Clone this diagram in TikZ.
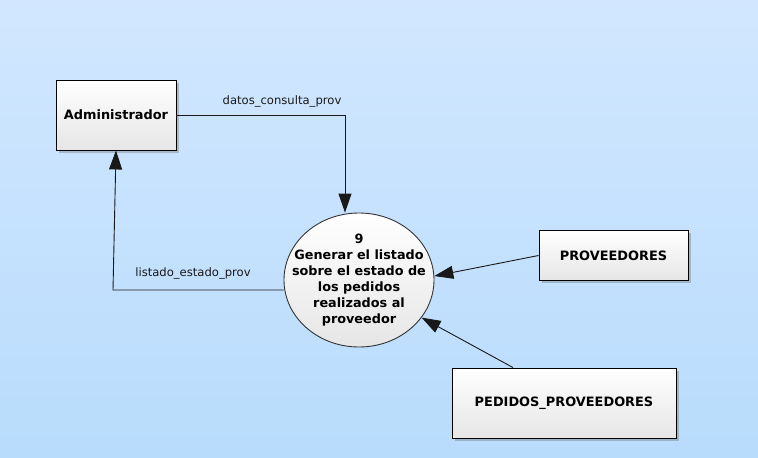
\documentclass[tikz,border=0pt]{standalone}
\usepackage{fontspec}
\setmainfont{DejaVu Sans}
\usetikzlibrary{arrows.meta}
\usetikzlibrary{shapes.geometric}
\usetikzlibrary{shadows}

\definecolor{fundoA}{RGB}{210,231,255}
\definecolor{fundoB}{RGB}{184,220,252}
\definecolor{caixaB}{RGB}{230,230,230}

\tikzset{
  entidade/.style={draw=black, line width=0.9pt, top color=white, bottom color=caixaB,
    drop shadow={shadow xshift=2.5pt, shadow yshift=-2.5pt, opacity=.35, fill=black!60},
    font=\fontsize{12.9}{16}\selectfont\bfseries, inner sep=0pt},
  processo/.style={ellipse, draw=black!80, line width=0.9pt, top color=white, bottom color=caixaB,
    align=center, inner xsep=-15pt, inner ysep=-2pt,
    font=\fontsize{12.8}{16}\selectfont\bfseries},
  fluxo/.style={draw=black!90, line width=0.9pt, -{Triangle[length=19pt,width=13pt]}},
  rotulo/.style={font=\fontsize{11.6}{13}\selectfont, text=black!90}
}

\begin{document}
\begin{tikzpicture}[x=1pt,y=-1pt]

% fundo
\shade[top color=fundoA, bottom color=fundoB] (0,0) rectangle (758,458);
\useasboundingbox (0,0) rectangle (758,458);

% entidades
\node[entidade, minimum width=120pt, minimum height=70pt] (adm) at (116,115) {Administrador};
\node[entidade, minimum width=149pt, minimum height=50pt] (prov) at (613.5,255.5) {PROVEEDORES};
\node[entidade, minimum width=224pt, minimum height=70pt] (ped) at (564,403) {PEDIDOS\_PROVEEDORES};

% processo
\node[processo, minimum width=150pt, minimum height=134pt] (proc) at (359,280)
  {9\\Generar el listado\\sobre el estado de\\los pedidos\\realizados al\\proveedor};

% fluxos
\coordinate (canto) at (113,290);
\draw[fluxo] (adm.east) -| ([xshift=-14pt]proc.north);
\draw[fluxo] ([yshift=-10pt]proc.west) -- (canto) -- (adm.south);
\draw[fluxo] (prov.west) -- (proc.3);
\draw[fluxo] ([xshift=-51pt]ped.north) -- (proc.-31);

% rotulos
\node[rotulo] (lblDatos) at (282,101) {datos\_consulta\_prov};
\node[rotulo] (lblListado) at (193,273) {listado\_estado\_prov};

\end{tikzpicture}
\end{document}
